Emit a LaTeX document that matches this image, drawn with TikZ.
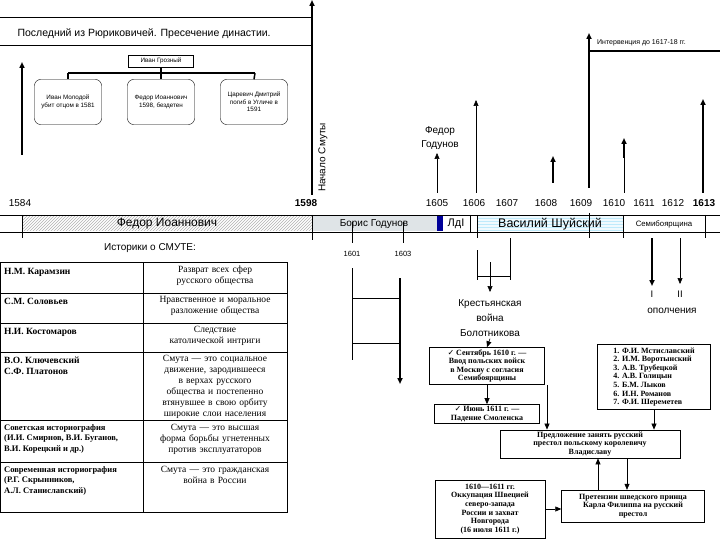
\documentclass[tikz,border=0pt]{standalone}
\usepackage{fontspec}
\setmainfont{Liberation Sans}
\newfontfamily\serf{Liberation Serif}
\newfontfamily\djv{DejaVu Sans}
\newcommand{\chk}{{\djv ✓}}
\usetikzlibrary{patterns,arrows.meta}
\begin{document}
\begin{tikzpicture}[x=1pt,y=-1pt,
 ln/.style={line width=0.6pt},
 th/.style={line width=2pt},
 up/.style={-{Triangle[length=6pt,width=5pt]}},
 yr/.style={font=\fontsize{10}{10}\selectfont,inner sep=0},
 kid/.style={draw,rounded corners=6pt,minimum width=67pt,minimum height=45pt,align=center,font=\fontsize{6.3}{7.5}\selectfont,inner sep=1pt},
 sb/.style={draw,align=center,font=\serf\bfseries\fontsize{8}{8.6}\selectfont,inner sep=2pt},
 tc/.style={font=\serf\bfseries\fontsize{9.5}{11}\selectfont,align=left,anchor=north west,inner sep=0},
 tcs/.style={font=\serf\bfseries\fontsize{8.5}{10.5}\selectfont,align=left,anchor=north west,inner sep=0},
 tr/.style={font=\serf\fontsize{9.5}{11}\selectfont,align=center,anchor=north,inner sep=0,text width=128pt},
 lab/.style={font=\fontsize{9.5}{11.5}\selectfont,align=center,inner sep=0}]
\useasboundingbox (0,0) rectangle (720,540);
\fill[white] (0,0) rectangle (720,540);
% title
\draw[ln] (0,17) -- (312,17); \draw[ln] (0,45) -- (312,45);
\node[anchor=west,font=\fontsize{10.5}{11}\selectfont] (title) at (14,34) {Последний из Рюриковичей. Пресечение династии.};
% family
\node[draw,minimum width=65pt,minimum height=12pt,font=\fontsize{6.3}{7}\selectfont,inner sep=0] (ivan) at (161,61) {Иван Грозный};
\coordinate (bar) at (161,73);
\draw[th] (ivan.south) -- (bar);
\draw[line width=1.5pt] (68,73) -- (255,73);
\node[kid] (k1) at (68,102) {Иван Молодой\\убит отцом в 1581};
\node[kid] (k2) at (161,102) {Федор Иоаннович\\1598, бездетен};
\node[kid] (k3) at (254,102) {Царевич Дмитрий\\погиб в Угличе в\\1591};
\foreach \k/\x in {k1/68,k2/161,k3/255}{\draw[line width=1.5pt] (\x,73) -- (\k.north);}
% big arrows
\coordinate (a0) at (22,155); \coordinate (a0t) at (22,62);
\draw[th,up] (a0) -- (a0t);
\coordinate (s0) at (312,195); \coordinate (s0t) at (312,0);
\draw[th,up] (s0) -- (s0t);
\node[rotate=90,anchor=west,font=\fontsize{10}{10}\selectfont,inner sep=0] (smuta) at (323,192) {Начало Смуты};
% years
\node[yr] (y1584) at (20,203) {1584};
\node[yr,font=\bfseries\fontsize{10}{10}\selectfont] (y1598) at (306,203) {1598};
\foreach \n/\x in {1605/437,1606/474,1607/507,1608/546,1609/581,1610/614,1611/644,1612/673}{\node[yr] (y\n) at (\x,203) {\n};}
\node[yr,font=\bfseries\fontsize{10}{10}\selectfont] (y1613) at (704,203) {1613};
% timeline band
\fill[pattern=north east lines,pattern color=gray!60] (22,216) rectangle (312,231);
\fill[cyan!15!gray!25] (312,216) rectangle (437,231);
\fill[blue!60!black] (437,216) rectangle (443,231);
\fill[cyan!6] (477,216) rectangle (623,231);
\foreach \yy in {218,221,224,227,230}{\draw[cyan!25,line width=0.4pt] (477,\yy) -- (623,\yy);}
\draw[ln] (0,215) -- (720,215); \draw[ln] (0,232) -- (720,232);
\foreach \x in {22,312,470,477,623,705}{\draw[ln] (\x,215) -- (\x,232);}
\draw[ln] (22,232) -- (22,238); \draw[ln] (312,232)--(312,240); \draw[ln] (477,232)--(477,238);\draw[ln](623,232)--(623,238);\draw[ln](705,232)--(705,238);
\node[lab,font=\fontsize{12}{12}\selectfont] (fi) at (167,224) {Федор Иоаннович};
\node[lab,font=\fontsize{10}{11}\selectfont] (bg) at (374,224) {Борис Годунов};
\node[lab,font=\fontsize{11}{11}\selectfont] (ld) at (456,224) {ЛдI};
\node[lab,font=\fontsize{12.5}{12}\selectfont] (vs) at (550,224) {Василий Шуйский};
\node[lab,font=\fontsize{7.8}{8}\selectfont] (sb7) at (664,224) {Семибоярщина};
% upward event arrows
\draw[ln,up] (437,193) -- (437,153);
\node[lab,font=\fontsize{10}{14}\selectfont] (fg) at (440,138) {Федор\\Годунов};
\draw[ln,up] (476,193) -- (476,100);
\draw[th,up] (553,183) -- (553,156);
\draw[th,up] (589,188) -- (589,33);
\draw[ln] (589,213) -- (589,238);
\draw[th] (589,51) -- (720,51);
\node[anchor=west,font=\fontsize{7}{7}\selectfont,inner sep=0] (interv) at (597,43) {Интервенция до 1617-18 гг.};
\draw[th,up] (624,158) -- (624,138);\draw[ln] (624,193)--(624,158);
\draw[th,up] (703,193) -- (703,99);
% below timeline
\node[lab,font=\fontsize{10}{11}\selectfont] (hist) at (150,248) {Историки о СМУТЕ:};
\draw[ln] (352,222) -- (352,243); \draw[ln] (403,222) -- (403,243);
\node[lab,font=\fontsize{7.5}{8}\selectfont] (y1601) at (352,254) {1601};
\node[lab,font=\fontsize{7.5}{8}\selectfont] (y1603) at (403,254) {1603};
\draw[ln] (352,268) -- (352,360);
\draw[th,up] (400,278) -- (400,384);
\draw[ln] (352,298) -- (400,298); \draw[ln] (352,343) -- (400,343);
\draw[ln] (477,250) -- (477,280); \draw[ln] (510,238) -- (510,280);
\draw[ln] (477,276) -- (510,276);
\draw[ln,up] (490,262) -- (490,292);
\node[lab,font=\fontsize{10}{15}\selectfont] (kv) at (490,318) {Крестьянская\\война\\Болотникова};
\draw[th,up] (652,238) -- (652,286);
\draw[ln,up] (680,238) -- (680,284);
\node[lab] (o1) at (652,294) {I};
\node[lab] (o2) at (680,294) {II};
\node[lab,font=\fontsize{10}{11}\selectfont] (op) at (672,311) {ополчения};
% table
\draw[line width=0.8pt] (0,262) rectangle (287,512);
\draw[ln] (143,262) -- (143,512);
\foreach \yy in {293,323,352,420,462}{\draw[ln] (0,\yy) -- (287,\yy);}
\node[tc] (t1) at (4,268) {Н.М. Карамзин};
\node[tc] (t2) at (4,298) {С.М. Соловьев};
\node[tc] (t3) at (4,328) {Н.И. Костомаров};
\node[tc] (t4) at (4,357) {В.О. Ключевский\\С.Ф. Платонов};
\node[tcs] (t5) at (4,424) {Советская историография\\(И.И. Смирнов, В.И. Буганов,\\ В.И. Корецкий и др.)};
\node[tcs] (t6) at (4,466) {Современная историография\\(Р.Г. Скрынников,\\А.Л. Станиславский)};
\node[tr] (r1) at (215,266) {Разврат всех сфер русского общества};
\node[tr] (r2) at (215,296) {Нравственное и моральное разложение общества};
\node[tr] (r3) at (215,326) {Следствие католической интриги};
\node[tr] (r4) at (215,355) {Смута — это социальное движение, зародившееся в верхах русского общества и постепенно втянувшее в свою орбиту широкие слои населения};
\node[tr] (r5) at (215,424) {Смута — это высшая форма борьбы угнетенных против эксплуататоров};
\node[tr] (r6) at (215,466) {Смута — это гражданская война в России};
% flow boxes
\node[sb,minimum width=115pt,minimum height=37pt] (b1) at (487,366) {\chk\ Сентябрь 1610 г. —\\Ввод польских войск\\в Москву с согласия\\Семибоярщины};
\node[sb,minimum width=105pt,minimum height=16pt] (b2) at (487,414) {\chk\ Июнь 1611 г. —\\Падение Смоленска};
\node[sb,draw,line width=1.2pt,align=left,minimum width=113pt,minimum height=63pt,inner sep=3pt] (lst) at (654,377) {1. Ф.И. Мстиславский\\2. И.М. Воротынский\\3. А.В. Трубецкой\\4. А.В. Голицын\\5. Б.М. Лыков\\6. И.Н. Романов\\7. Ф.И. Шереметев};
\node[sb,minimum width=180pt,minimum height=22pt] (b3) at (590,444) {Предложение занять русский\\престол польскому королевичу\\Владиславу};
\node[sb,minimum width=143pt,minimum height=32pt] (b4) at (633,506) {Претензии шведского принца\\Карла Филиппа на русский\\престол};
\node[sb,minimum width=110pt,minimum height=58pt] (b5) at (490,509) {1610—1611 гг.\\Оккупация Швецией\\северо-запада\\России и захват\\Новгорода\\(16 июля 1611 г.)};
\coordinate (c547) at (547,0); \coordinate (c598) at (598,0); \coordinate (c627) at (627,0);
\draw[ln,up] (kv.south) ++(0,2) -- (b1.north);
\draw[ln,up] (b1.south) -- (b2.north);
\draw[ln,up] (b1.south -| c547) -- (b3.north -| c547);
\draw[ln,up] (lst.south) -- (lst.south |- b3.north);
\draw[ln,up] (b4.north -| c598) -- (b3.south -| c598);
\draw[ln,up] (b3.south -| c627) -- (b4.north -| c627);
\draw[ln,up] (b5.east) -- (b4.west |- b5.east);
\end{tikzpicture}
\end{document}
